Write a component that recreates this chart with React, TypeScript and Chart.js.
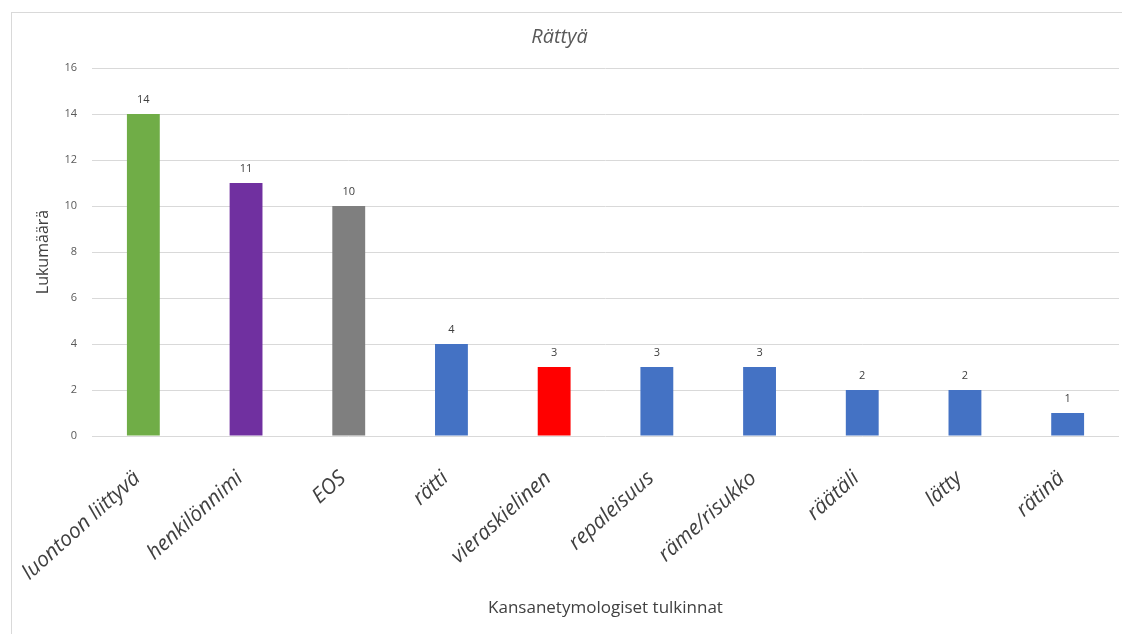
import React, { useEffect, useRef } from "react";
import { Chart, registerables } from "chart.js";

Chart.register(...registerables);

const categories = [
  "luontoon liittyvä",
  "henkilönnimi",
  "EOS",
  "rätti",
  "vieraskielinen",
  "repaleisuus",
  "räme/risukko",
  "räätäli",
  "lätty",
  "rätinä",
];
const counts = [14, 11, 10, 4, 3, 3, 3, 2, 2, 1];
const barColors = [
  "#70AD47",
  "#7030A0",
  "#7F7F7F",
  "#4472C4",
  "#FF0000",
  "#4472C4",
  "#4472C4",
  "#4472C4",
  "#4472C4",
  "#4472C4",
];
const yTicks = [0, 2, 4, 6, 8, 10, 12, 14, 16];
const chartTitle = "Rättyä";
const yTitle = "Lukumäärä";
const xTitle = "Kansanetymologiset tulkinnat";

const FONT = "'Open Sans', 'Noto Sans', sans-serif";

const framePlugin = {
  id: "frame",
  beforeDraw(chart: any) {
    const { ctx } = chart;
    ctx.save();
    ctx.strokeStyle = "#d9d9d9";
    ctx.lineWidth = 1;
    ctx.strokeRect(11.5, 12.5, 1130, 640);
    ctx.restore();
  },
};

const valueLabelPlugin = {
  id: "valueLabels",
  afterDatasetsDraw(chart: any) {
    const { ctx } = chart;
    const meta = chart.getDatasetMeta(0);
    const data = chart.data.datasets[0].data;
    ctx.save();
    ctx.font = `11px ${FONT}`;
    ctx.fillStyle = "#404040";
    ctx.textAlign = "center";
    ctx.textBaseline = "middle";
    meta.data.forEach((bar: any, i: number) => {
      ctx.fillText(String(data[i]), bar.x, bar.y - 14);
    });
    ctx.restore();
  },
};

export default function App() {
  const ref = useRef<HTMLCanvasElement | null>(null);

  useEffect(() => {
    if (!ref.current) return;
    const chart = new Chart(ref.current, {
      type: "bar",
      data: {
        labels: categories,
        datasets: [
          {
            data: counts,
            backgroundColor: barColors,
            borderWidth: 0,
            barPercentage: 0.32,
            categoryPercentage: 1,
          },
        ],
      },
      options: {
        animation: false,
        responsive: false,
        layout: { padding: { left: 0, right: 3, top: 0, bottom: 0 } },
        plugins: {
          legend: { display: false },
          tooltip: { enabled: false },
          title: {
            display: true,
            text: chartTitle,
            color: "#595959",
            font: { family: FONT, size: 20, style: "italic", weight: "normal" },
            padding: { top: 25, bottom: 19 },
          },
        },
        scales: {
          x: {
            grid: { display: false, drawTicks: false },
            border: { display: false },
            ticks: {
              color: "#404040",
              font: { family: FONT, size: 21, style: "italic" },
              maxRotation: 42,
              minRotation: 42,
              padding: 30,
              labelOffset: -6,
              autoSkip: false,
            },
            title: {
              display: true,
              text: xTitle,
              color: "#404040",
              font: { family: FONT, size: 17 },
              padding: { top: 0, bottom: 16 },
            },
            afterFit(scale: any) {
              scale.height = 198;
              scale.paddingLeft = 0;
              scale.paddingRight = 0;
            },
          },
          y: {
            min: 0,
            max: 16,
            afterBuildTicks(scale: any) {
              scale.ticks = yTicks.map((v) => ({ value: v }));
            },
            grid: { color: "#d9d9d9", lineWidth: 1, drawTicks: false },
            border: { display: false },
            ticks: {
              color: "#595959",
              font: { family: FONT, size: 11 },
              padding: 15,
            },
            title: {
              display: true,
              text: yTitle,
              color: "#404040",
              font: { family: FONT, size: 16 },
              padding: { top: 34, bottom: 0 },
            },
            afterFit(scale: any) {
              scale.width = 92;
            },
          },
        },
      },
      plugins: [framePlugin, valueLabelPlugin],
    });
    return () => chart.destroy();
  }, []);

  return (
    <div
      style={{
        position: "fixed",
        left: 0,
        top: 0,
        width: 1122,
        height: 634,
        background: "#fff",
      }}
    >
      <canvas ref={ref} width={1122} height={634} />
    </div>
  );
}
